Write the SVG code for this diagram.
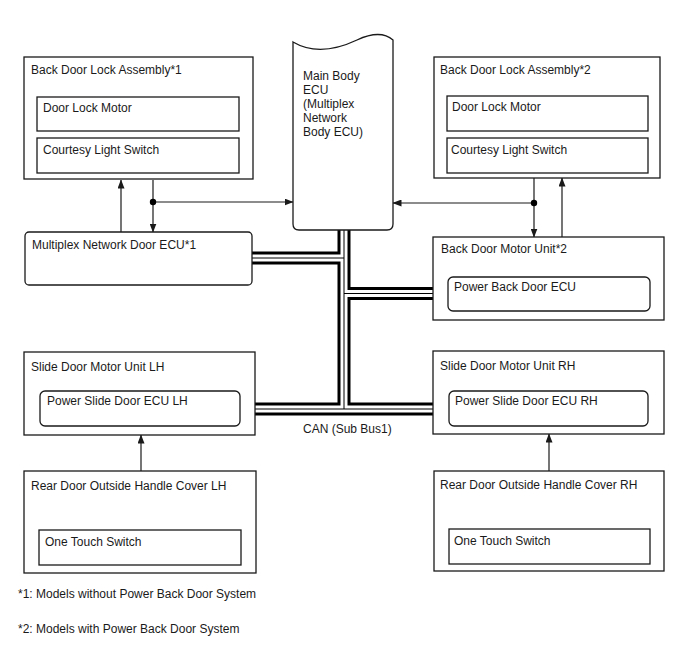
<svg xmlns="http://www.w3.org/2000/svg" width="688" height="658" viewBox="0 0 688 658">
<style>
.box{fill:#fff;stroke:#1a1a1a;stroke-width:1.3}
.t{font-family:"Liberation Sans",Arial,sans-serif;font-size:12px;fill:#1a1a1a}
.ln{fill:none;stroke:#1a1a1a;stroke-width:1.2}
.b1{fill:none;stroke:#000;stroke-width:13}
.b2{fill:none;stroke:#fff;stroke-width:7}
.b3{fill:none;stroke:#000;stroke-width:1}
</style>
<defs>
<marker id="ah" markerWidth="9" markerHeight="7" refX="8.5" refY="3.5" orient="auto" markerUnits="userSpaceOnUse">
<path d="M0,0 L9,3.5 L0,7 z" fill="#1a1a1a"/>
</marker>
</defs>
<rect width="688" height="658" fill="#fff"/>

<g id="connectors">
<path class="b1" d="M344,230 V409 M252,258 H344 M344,293.5 H433 M255,409 H433"/>
<path class="b2" d="M344,230 V409 M252,258 H344 M344,293.5 H433 M255,409 H433"/>
<path class="b3" d="M344,230 V409 M252,258 H344 M344,293.5 H433 M255,409 H433"/>
<line class="ln" x1="121" y1="232" x2="121" y2="180" marker-end="url(#ah)"/>
<line class="ln" x1="153" y1="180" x2="153" y2="232" marker-end="url(#ah)"/>
<line class="ln" x1="153" y1="202" x2="293" y2="202" marker-end="url(#ah)"/>
<circle cx="153" cy="202" r="3.2" fill="#000"/>
<line class="ln" x1="534" y1="178" x2="534" y2="237" marker-end="url(#ah)"/>
<line class="ln" x1="534" y1="203" x2="393" y2="203" marker-end="url(#ah)"/>
<circle cx="534" cy="203" r="3.2" fill="#000"/>
<line class="ln" x1="562" y1="237" x2="562" y2="178" marker-end="url(#ah)"/>
<line class="ln" x1="141" y1="471" x2="141" y2="435" marker-end="url(#ah)"/>
<line class="ln" x1="549" y1="471" x2="549" y2="434" marker-end="url(#ah)"/>
<text class="t" x="303" y="433">CAN (Sub Bus1)</text>
</g>

<g id="bdla1">
<rect class="box" x="24" y="57" width="229" height="122"/>
<text class="t" x="31" y="74">Back Door Lock Assembly*1</text>
<rect class="box" x="37" y="97" width="202" height="34"/>
<text class="t" x="43" y="112">Door Lock Motor</text>
<rect class="box" x="37" y="138" width="202" height="35"/>
<text class="t" x="43" y="153.5">Courtesy Light Switch</text>
</g>

<g id="main-ecu">
<path class="box" d="M293,42 C315,55 340,48 357,40 C372,33 385,33 393,40 V224 Q393,230 387,230 H299 Q293,230 293,224 Z"/>
<text class="t" x="303" y="79.5">Main Body</text>
<text class="t" x="303" y="93.5">ECU</text>
<text class="t" x="303" y="107.5">(Multiplex</text>
<text class="t" x="303" y="121.5">Network</text>
<text class="t" x="303" y="135.5">Body ECU)</text>
</g>

<g id="bdla2">
<rect class="box" x="434" y="57" width="226" height="121"/>
<text class="t" x="440" y="74">Back Door Lock Assembly*2</text>
<rect class="box" x="447" y="96" width="201" height="35"/>
<text class="t" x="452" y="110.5">Door Lock Motor</text>
<rect class="box" x="447" y="138" width="201" height="35"/>
<text class="t" x="451" y="153.5">Courtesy Light Switch</text>
</g>

<g id="mpx-door-ecu">
<rect class="box" x="25" y="232" width="227" height="53" rx="4"/>
<text class="t" x="32" y="249">Multiplex Network Door ECU*1</text>
</g>

<g id="back-door-motor">
<rect class="box" x="433" y="237" width="231" height="83"/>
<text class="t" x="441" y="253">Back Door Motor Unit*2</text>
<rect class="box" x="448" y="277" width="202" height="34" rx="5"/>
<text class="t" x="454" y="291">Power Back Door ECU</text>
</g>

<g id="slide-lh">
<rect class="box" x="24" y="352" width="231" height="83"/>
<text class="t" x="31" y="371">Slide Door Motor Unit LH</text>
<rect class="box" x="40" y="391" width="200" height="35" rx="5"/>
<text class="t" x="47" y="405">Power Slide Door ECU LH</text>
</g>

<g id="slide-rh">
<rect class="box" x="433" y="351" width="231" height="83"/>
<text class="t" x="440" y="370">Slide Door Motor Unit RH</text>
<rect class="box" x="449" y="391" width="199" height="35" rx="5"/>
<text class="t" x="455" y="405">Power Slide Door ECU RH</text>
</g>

<g id="handle-lh">
<rect class="box" x="24" y="471" width="232" height="102"/>
<text class="t" x="31" y="490">Rear Door Outside Handle Cover LH</text>
<rect class="box" x="39" y="530" width="202" height="35"/>
<text class="t" x="45" y="546">One Touch Switch</text>
</g>

<g id="handle-rh">
<rect class="box" x="434" y="471" width="230" height="100"/>
<text class="t" x="440" y="489">Rear Door Outside Handle Cover RH</text>
<rect class="box" x="449" y="529" width="201" height="35"/>
<text class="t" x="454" y="545">One Touch Switch</text>
</g>

<g id="notes">
<text class="t" x="18" y="598">*1: Models without Power Back Door System</text>
<text class="t" x="18" y="633">*2: Models with Power Back Door System</text>
</g>
</svg>
